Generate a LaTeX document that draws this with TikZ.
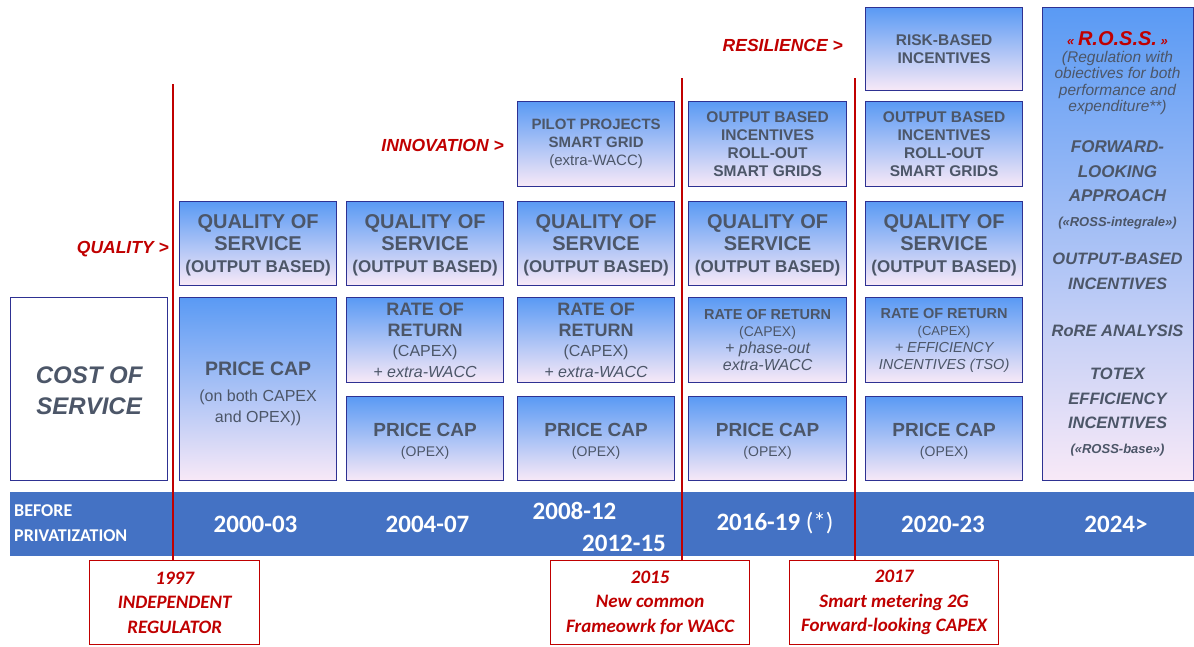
\documentclass[tikz,border=0pt]{standalone}
\usepackage{fontspec}
\setmainfont{Liberation Sans}
\newfontfamily\calibri{Carlito}
\usetikzlibrary{positioning}

\definecolor{boxedge}{HTML}{2E3192}
\definecolor{shadetop}{HTML}{5A9AF4}
\definecolor{shadebot}{HTML}{F8E9F7}
\definecolor{boxink}{HTML}{4C5668}
\definecolor{band}{HTML}{4472C4}
\definecolor{redmark}{HTML}{C00000}

\newcommand{\fs}[2]{\fontsize{#1}{#2}\selectfont}

\begin{document}
\begin{tikzpicture}[x=1pt, y=-1pt,
  cell/.style={rectangle, draw=boxedge, line width=1.2pt, top color=shadetop, bottom color=shadebot,
    anchor=north west, align=center, text=boxink, inner sep=1pt},
  blank/.style={cell, top color=white, bottom color=white},
  rosstext/.style={align=center, text=boxink, inner sep=0pt},
  tag/.style={text=redmark, font=\fs{17.5}{20}\bfseries\itshape, inner sep=0pt},
  period/.style={text=white, font=\calibri\fs{25}{28}\bfseries, inner sep=0pt, anchor=base},
  event/.style={rectangle, draw=redmark, line width=1.3pt, fill=white, anchor=north west, align=center,
    text=redmark, font=\calibri\fs{19}{24.5}\bfseries\itshape, minimum height=84},
  milestone/.style={draw=redmark, line width=1.8pt}
]
\useasboundingbox (0,0) rectangle (1194,646);

% timeline band
\node[rectangle, fill=band, anchor=north west, minimum width=1184, minimum height=64, inner sep=0pt] (timeline) at (10,492) {};
\node[text=white, font=\calibri\fs{18}{25}\bfseries, align=left, anchor=west, inner sep=0pt] (before) at (14,523) {BEFORE\\PRIVATIZATION};
\node[period] (p2000) at (255.5,532) {2000-03};
\node[period] (p2004) at (427.5,532) {2004-07};
\node[period] (p2008) at (574.5,519) {2008-12};
\node[period] (p2012) at (624,551) {2012-15};
\node[period] (p2016) at (775,530) {2016-19 {\mdseries(*)}};
\node[period] (p2020) at (943,532) {2020-23};
\node[period] (p2024) at (1116,532) {2024>};

% before privatization
\node[blank, minimum width=157, minimum height=183, font=\bfseries\itshape\fs{24}{31}] (cos) at (10,297) {\rule{0pt}{21pt}COST OF\\SERVICE};

% 2000-03
\node[cell, minimum width=157, minimum height=84, font=\bfseries\fs{20}{22}] (qos1) at (179,201) {\rule{0pt}{18pt}QUALITY OF\\SERVICE\\\fs{17}{22}(OUTPUT BASED)};
\node[cell, minimum width=157, minimum height=183, font=\fs{16}{21}] (pc1) at (179,297) {\bfseries\fs{19.5}{21}\rule{0pt}{24pt}PRICE CAP\\[5pt](on both CAPEX\\and OPEX))};

% 2004-07
\node[cell, minimum width=157, minimum height=84, font=\bfseries\fs{20}{22}] (qos2) at (346,201) {\rule{0pt}{18pt}QUALITY OF\\SERVICE\\\fs{17}{22}(OUTPUT BASED)};
\node[cell, minimum width=157, minimum height=85, font=\bfseries\fs{18}{20.5}] (ror2) at (346,297) {RATE OF\\RETURN\\\mdseries\fs{16}{19}(CAPEX)\\\mdseries\itshape\fs{16}{18}+ extra-WACC};
\node[cell, minimum width=157, minimum height=84, font=\bfseries\fs{19}{20}] (pc2) at (346,396) {\rule{0pt}{19pt}PRICE CAP\\\mdseries\fs{14}{18}(OPEX)};

% 2008-15
\node[cell, minimum width=157, minimum height=85, font=\bfseries\fs{15}{18}] (pilot) at (517,101) {PILOT PROJECTS\\SMART GRID\\\mdseries(extra-WACC)};
\node[cell, minimum width=157, minimum height=84, font=\bfseries\fs{20}{22}] (qos3) at (517,201) {\rule{0pt}{18pt}QUALITY OF\\SERVICE\\\fs{17}{22}(OUTPUT BASED)};
\node[cell, minimum width=157, minimum height=85, font=\bfseries\fs{18}{20.5}] (ror3) at (517,297) {RATE OF\\RETURN\\\mdseries\fs{16}{19}(CAPEX)\\\mdseries\itshape\fs{16}{18}+ extra-WACC};
\node[cell, minimum width=157, minimum height=84, font=\bfseries\fs{19}{20}] (pc3) at (517,396) {\rule{0pt}{19pt}PRICE CAP\\\mdseries\fs{14}{18}(OPEX)};

% 2016-19
\node[cell, minimum width=158, minimum height=85, font=\bfseries\fs{15.5}{18}] (obi4) at (688,101) {OUTPUT BASED\\INCENTIVES\\ROLL-OUT\\SMART GRIDS};
\node[cell, minimum width=158, minimum height=84, font=\bfseries\fs{20}{22}] (qos4) at (688,201) {\rule{0pt}{18pt}QUALITY OF\\SERVICE\\\fs{17}{22}(OUTPUT BASED)};
\node[cell, minimum width=158, minimum height=85, font=\bfseries\fs{14.5}{17}] (ror4) at (688,297) {RATE OF RETURN\\\mdseries\fs{14}{17}(CAPEX)\\\mdseries\itshape\fs{16}{17.5}+ phase-out\\\mdseries\itshape\fs{16}{17.5}extra-WACC};
\node[cell, minimum width=158, minimum height=84, font=\bfseries\fs{19}{20}] (pc4) at (688,396) {\rule{0pt}{19pt}PRICE CAP\\\mdseries\fs{14}{18}(OPEX)};

% 2020-23
\node[cell, minimum width=157, minimum height=83, font=\bfseries\fs{15.5}{18}] (risk) at (865,7) {RISK-BASED\\INCENTIVES};
\node[cell, minimum width=157, minimum height=85, font=\bfseries\fs{15.5}{18}] (obi5) at (865,101) {OUTPUT BASED\\INCENTIVES\\ROLL-OUT\\SMART GRIDS};
\node[cell, minimum width=157, minimum height=84, font=\bfseries\fs{20}{22}] (qos5) at (865,201) {\rule{0pt}{18pt}QUALITY OF\\SERVICE\\\fs{17}{22}(OUTPUT BASED)};
\node[cell, minimum width=157, minimum height=85, font=\bfseries\fs{14.5}{17}] (ror5) at (865,297) {RATE OF RETURN\\\mdseries\fs{13}{16}(CAPEX)\\\mdseries\itshape\fs{14.5}{16}+ EFFICIENCY\\\mdseries\itshape\fs{14.5}{16}INCENTIVES (TSO)};
\node[cell, minimum width=157, minimum height=84, font=\bfseries\fs{19}{20}] (pc5) at (865,396) {\rule{0pt}{19pt}PRICE CAP\\\mdseries\fs{14}{18}(OPEX)};

% 2024>
\node[cell, minimum width=151, minimum height=473] (ross) at (1042,7) {};
\node[rosstext, text=redmark, anchor=base, font=\bfseries\itshape] (rosstitle) at (1117.5,45) {\fs{13}{16}«\ \fs{20}{22}R.O.S.S.\fs{13}{16}\ »};
\node[rosstext, anchor=north, font=\itshape\fs{15.5}{16.5}] (rossnote) at (1117.5,51) {(Regulation with\\obiectives for both\\performance and\\expenditure**)};
\node[rosstext, anchor=north, font=\bfseries\itshape\fs{17}{24.5}] (rossfwd) at (1117.5,140.5) {FORWARD-\\LOOKING\\APPROACH\\\fs{13}{23}(«ROSS-integrale»)};
\node[rosstext, anchor=north, font=\bfseries\itshape\fs{16.5}{24.5}] (rossout) at (1117.5,253) {OUTPUT-BASED\\INCENTIVES};
\node[rosstext, anchor=north, font=\bfseries\itshape\fs{16.5}{25}] (rossrore) at (1117.5,325) {RoRE ANALYSIS};
\node[rosstext, anchor=north, font=\bfseries\itshape\fs{16.5}{24.5}] (rosstotex) at (1117.5,368) {TOTEX\\EFFICIENCY\\INCENTIVES\\\fs{13}{16}(«ROSS-base»)};

% drivers
\node[tag, left=10pt of qos1, yshift=-5pt] (quality) {QUALITY >};
\node[tag, left=13pt of pilot, yshift=-1pt] (innovation) {INNOVATION >};
\node[tag, left=22pt of risk, yshift=4pt] (resilience) {RESILIENCE >};

% milestones
\node[event, minimum width=170] (reg) at (89,560) {1997\\INDEPENDENT\\REGULATOR};
\node[event, minimum width=199] (wacc) at (550,560) {2015\\New common\\Frameowrk for WACC};
\node[event, minimum width=209] (smart) at (789,560) {2017\\Smart metering 2G\\Forward-looking CAPEX};

\coordinate (regtop) at (173,84);
\coordinate (wacctop) at (682,78);
\coordinate (smarttop) at (855,78);
\draw[milestone] (regtop) -- (regtop |- reg.north);
\draw[milestone] (wacctop) -- (wacctop |- wacc.north);
\draw[milestone] (smarttop) -- (smarttop |- smart.north);

\end{tikzpicture}
\end{document}
